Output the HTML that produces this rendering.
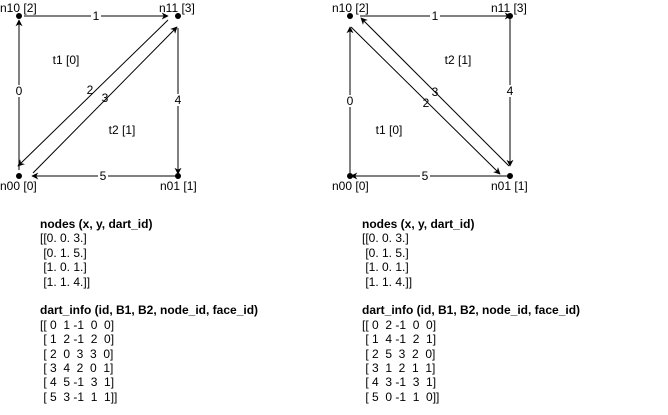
<!DOCTYPE html>
<html><head><style>
body{margin:0;width:668px;height:415px;background:#fff;overflow:hidden;font-family:"Liberation Sans",sans-serif;}
.t{position:absolute;font-size:12px;line-height:14.4px;white-space:pre;color:#000}
b{font-weight:bold}
</style></head><body>
<svg width="668" height="415" style="position:absolute;left:0;top:0" font-family="Liberation Sans, sans-serif" font-size="12">
<defs><marker id="a" viewBox="0 0 10 10" refX="9" refY="5" markerWidth="7" markerHeight="7" orient="auto"><path d="M0,0 L10,5 L0,10 L3,5z" fill="#000"/></marker></defs>
<g stroke="#000" stroke-width="1" fill="none">
<line x1="19" y1="170" x2="19" y2="20" marker-end="url(#a)"/>
<line x1="24" y1="16" x2="168" y2="16" marker-end="url(#a)"/>
<line x1="168" y1="20" x2="18" y2="166" marker-end="url(#a)"/>
<line x1="33" y1="173" x2="177" y2="27" marker-end="url(#a)"/>
<line x1="178" y1="28" x2="178" y2="174" marker-end="url(#a)"/>
<line x1="176" y1="176" x2="32" y2="176" marker-end="url(#a)"/>
<line x1="350" y1="176" x2="350" y2="27" marker-end="url(#a)"/>
<line x1="360" y1="16" x2="511" y2="16" marker-end="url(#a)"/>
<line x1="351" y1="27" x2="500" y2="174" marker-end="url(#a)"/>
<line x1="509" y1="166" x2="361" y2="18" marker-end="url(#a)"/>
<line x1="510" y1="16" x2="510" y2="166" marker-end="url(#a)"/>
<line x1="508" y1="176" x2="351" y2="176" marker-end="url(#a)"/>
</g>
<g fill="#000"><circle cx="19" cy="16" r="3"/><circle cx="178" cy="16" r="3"/><circle cx="19" cy="176" r="3"/><circle cx="178" cy="176" r="3"/>
<circle cx="350" cy="16" r="3"/><circle cx="510" cy="16" r="3"/><circle cx="350" cy="176" r="3"/><circle cx="510" cy="176" r="3"/></g>
<g text-anchor="middle">
<rect x="91" y="10" width="10" height="12" fill="#fff"/><text x="96" y="20">1</text>
<rect x="14" y="85" width="10" height="12" fill="#fff"/><text x="19" y="95">0</text>
<text x="90" y="94">2</text><text x="105" y="102">3</text>
<rect x="173" y="94" width="10" height="12" fill="#fff"/><text x="178" y="104">4</text>
<rect x="98" y="170" width="10" height="12" fill="#fff"/><text x="103" y="180">5</text>
<text x="66" y="64">t1 [0]</text><text x="122" y="134">t2 [1]</text>
<rect x="430" y="10" width="10" height="12" fill="#fff"/><text x="435" y="20">1</text>
<rect x="345" y="95" width="10" height="12" fill="#fff"/><text x="350" y="105">0</text>
<text x="426" y="107">2</text><text x="435" y="96">3</text>
<rect x="505" y="85" width="10" height="12" fill="#fff"/><text x="510" y="95">4</text>
<rect x="420" y="170" width="10" height="12" fill="#fff"/><text x="425" y="180">5</text>
<text x="389" y="134">t1 [0]</text><text x="458" y="64">t2 [1]</text>
</g>
<text x="0" y="12">n10 [2]</text><text x="159" y="12">n11 [3]</text>
<text x="0" y="190">n00 [0]</text><text x="160" y="190">n01 [1]</text>
<text x="332" y="12">n10 [2]</text><text x="491" y="12">n11 [3]</text>
<text x="332" y="190">n00 [0]</text><text x="491" y="190">n01 [1]</text>
</svg>
<div class="t" style="left:40px;top:217px"><b>nodes (x, y, dart_id)</b>
[[0. 0. 3.]
 [0. 1. 5.]
 [1. 0. 1.]
 [1. 1. 4.]]

<b>dart_info (id, B1, B2, node_id, face_id)</b>
[[ 0  1 -1  0  0]
 [ 1  2 -1  2  0]
 [ 2  0  3  3  0]
 [ 3  4  2  0  1]
 [ 4  5 -1  3  1]
 [ 5  3 -1  1  1]]</div>
<div class="t" style="left:362px;top:217px"><b>nodes (x, y, dart_id)</b>
[[0. 0. 3.]
 [0. 1. 5.]
 [1. 0. 1.]
 [1. 1. 4.]]

<b>dart_info (id, B1, B2, node_id, face_id)</b>
[[ 0  2 -1  0  0]
 [ 1  4 -1  2  1]
 [ 2  5  3  2  0]
 [ 3  1  2  1  1]
 [ 4  3 -1  3  1]
 [ 5  0 -1  1  0]]</div>
</body></html>
